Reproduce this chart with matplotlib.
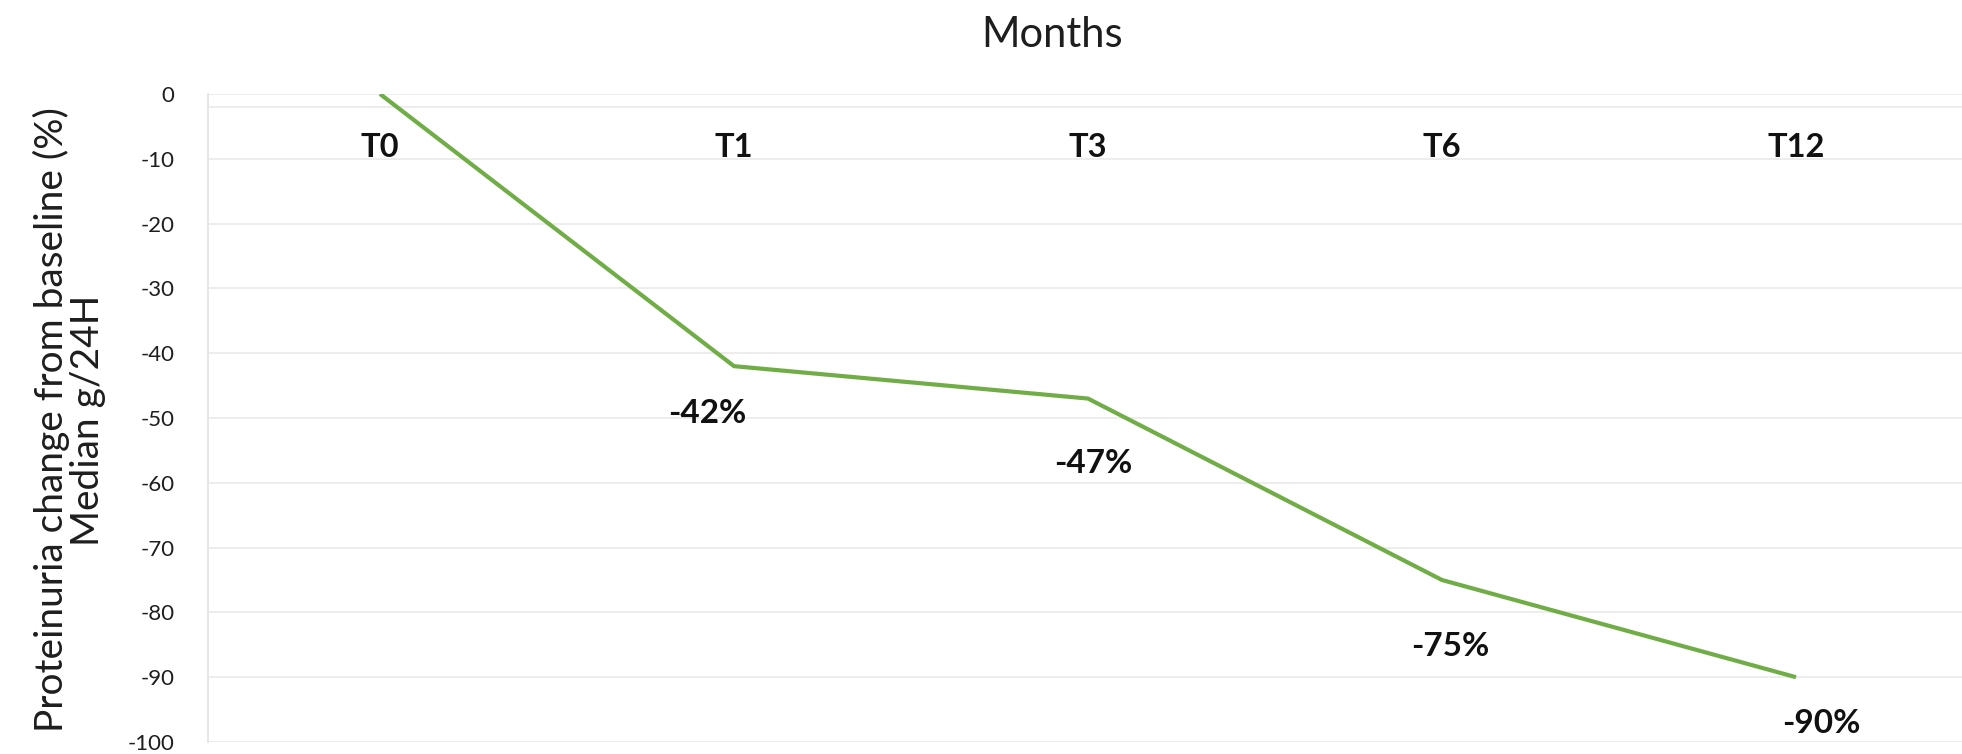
import matplotlib.pyplot as plt

plt.rcParams['font.family'] = ['Lato', 'DejaVu Sans']
plt.rcParams['axes.unicode_minus'] = False

# data
timepoints = ['T0', 'T1', 'T3', 'T6', 'T12']
change_pct = [0, -42, -47, -75, -90]
point_labels = ['', '-42%', '-47%', '-75%', '-90%']
# label offsets (points) relative to each data point, as placed in the original
label_dx = [0, -19, 4, 6, 18]
label_dy = [0, -34, -47, -48, -33]

green = '#70AD47'
grid_col = '#ececec'
text_col = '#111111'

fig = plt.figure(figsize=(19.62, 7.54), dpi=100)
ax = fig.add_axes([208 / 1962, 12 / 754, (1962 - 208) / 1962, 648 / 754])

xs = list(range(len(timepoints)))
ax.plot(xs, change_pct, color=green, linewidth=3.0, solid_capstyle='butt', zorder=3)

ax.set_xlim(-0.486, 4.469)
ax.set_ylim(-100, 0)
ax.set_yticks(range(-100, 1, 10))
ax.set_xticks([])

# horizontal gridlines
for v in range(-100, 1, 10):
    ax.axhline(v, color=grid_col, linewidth=1.3, zorder=1)
ax.axhline(-2, color=grid_col, linewidth=1.3, zorder=1)

for s in ['top', 'right', 'bottom']:
    ax.spines[s].set_visible(False)
ax.spines['left'].set_color('#e4e4ec')
ax.spines['left'].set_linewidth(1.3)
ax.tick_params(axis='y', length=0, pad=24, labelsize=16, labelcolor='#1e1e1e')

# category labels sit inside the plot near the top
for x, name in zip(xs, timepoints):
    ax.text(x, -8.2, name, ha='center', va='center', fontsize=23.5,
            fontweight='bold', color=text_col)

# value labels below the points
for x, y, lab, dx, dy in zip(xs, change_pct, point_labels, label_dx, label_dy):
    if lab:
        ax.annotate(lab, (x, y), xytext=(dx, dy), textcoords='offset points',
                    ha='center', va='center', fontsize=24, fontweight='bold',
                    color=text_col)

fig.text(1052 / 1962, 1 - 47 / 754, 'Months', ha='center', va='baseline',
         fontsize=30, color='#1e1e1e')
fig.text(69 / 1962, 1 - 420 / 754,
         'Proteinuria change from baseline (%)\nMedian g/24H',
         ha='center', va='center', rotation=90, fontsize=28,
         color='#1e1e1e', linespacing=1.0)

fig.savefig('out.png', dpi=100)
